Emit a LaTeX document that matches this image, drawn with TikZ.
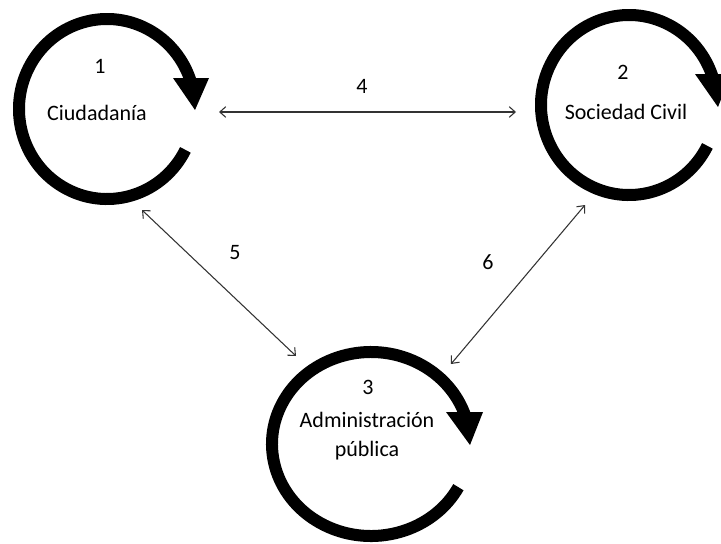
\documentclass[tikz,border=0pt]{standalone}
\usepackage{fontspec}
\setmainfont{Carlito}
\usetikzlibrary{calc,arrows.meta}
\begin{document}
\begin{tikzpicture}[x=0.75pt,y=0.75pt,
  loopline/.style={line width=9pt,black},
  loophead/.style={fill=black,draw=none},
  label/.style={font=\fontsize{16.5}{20}\selectfont,text=black,inner sep=0pt,align=center},
  link/.style={black!80,line width=0.8pt,{Straight Barb[length=4.5pt,width=8pt]}-{Straight Barb[length=4.5pt,width=8pt]}}]
\useasboundingbox (0,0) rectangle (721,-543);
\clip (0,0) rectangle (721,-543);

% centres of the three cycles
\coordinate (c1) at (107,-109);
\coordinate (c2) at (629,-105);
\coordinate (c3) at (371,-444);

% cycle 1: Ciudadanía
\draw[loopline] ($(c1)+({88*cos(-27)},{90*sin(-27)})$)
  arc[start angle=-27,end angle=-343,x radius=66pt,y radius=67.5pt];
\fill[loophead] ($(c1)+(66,31)$) -- ($(c1)+(102,31)$) -- ($(c1)+(88,-1)$) -- cycle;

% cycle 2: Sociedad Civil
\draw[loopline] ($(c2)+({88*cos(-27)},{90*sin(-27)})$)
  arc[start angle=-27,end angle=-343,x radius=66pt,y radius=67.5pt];
\fill[loophead] ($(c2)+(66,31)$) -- ($(c2)+(102,31)$) -- ($(c2)+(89,-2)$) -- cycle;

% cycle 3: Administración pública
\draw[loopline] ($(c3)+({99*cos(-28)},{92*sin(-28)})$)
  arc[start angle=-28,end angle=-343,x radius=74.25pt,y radius=69pt];
\fill[loophead] ($(c3)+(75,32)$) -- ($(c3)+(112,32)$) -- ($(c3)+(99,-1)$) -- cycle;

% labels
\node[label] (n1) at (100,-66) {1};
\node[label] (t1) at (97,-113) {Ciudadanía};
\node[label] (n2) at (623,-72) {2};
\node[label] (t2) at (626,-112) {Sociedad Civil};
\node[label] (n3) at (368,-387) {3};
\node[label] (t3) at (367,-436) {Administración\\[2pt]pública};
\node[label] (n4) at (362,-86) {4};
\node[label] (n5) at (235,-253) {5};
\node[label] (n6) at (488,-262) {6};

% link end points
\coordinate (a4) at (219,-112);
\coordinate (b4) at (516,-112);
\coordinate (a5) at (142,-210);
\coordinate (b5) at (296,-356);
\coordinate (a6) at (585,-205);
\coordinate (b6) at (451,-364);

\draw[link] (a4) -- (b4);
\draw[link] (a5) -- (b5);
\draw[link] (a6) -- (b6);
\end{tikzpicture}
\end{document}
